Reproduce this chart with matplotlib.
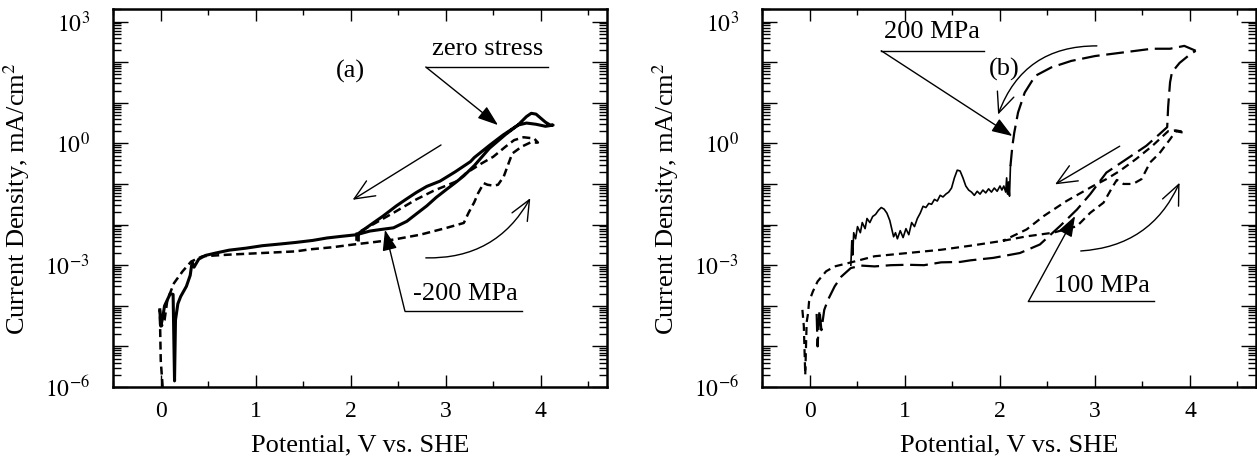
# Polarization curves under applied stress, panels (a) and (b)
import numpy as np
import matplotlib.pyplot as plt
from matplotlib.ticker import FixedLocator, FuncFormatter, LogLocator, MultipleLocator

plt.rcParams['font.family'] = ['Liberation Serif', 'DejaVu Serif']
plt.rcParams['mathtext.fontset'] = 'stix'

# ---- panel (a): zero stress (solid) and -200 MPa (dashed), log10 current in mA/cm2 ----
zero_fwd_v = [-0.01, 0.00, 0.02, 0.04, 0.07, 0.10, 0.13, 0.145, 0.155, 0.18, 0.21, 0.27, 0.31, 0.33,
              0.35, 0.40, 0.47, 0.58, 0.72, 0.90, 1.07, 1.25, 1.42, 1.60, 1.75, 1.90, 2.06, 2.20,
              2.32, 2.45, 2.59, 2.70, 2.80, 2.90, 3.01, 3.10, 3.19, 3.30, 3.46, 3.63, 3.76, 3.85,
              3.90, 3.95, 4.00, 4.05, 4.10, 4.13]
zero_fwd_log = [-4.10, -4.50, -4.30, -4.00, -3.85, -3.70, -3.72, -5.85, -4.35, -3.95, -3.77, -3.52,
                -3.25, -2.92, -3.05, -2.85, -2.76, -2.70, -2.63, -2.58, -2.52, -2.48, -2.44, -2.39,
                -2.33, -2.29, -2.25, -2.16, -2.12, -2.08, -1.92, -1.72, -1.54, -1.33, -1.13, -0.97,
                -0.80, -0.55, -0.12, 0.22, 0.45, 0.66, 0.74, 0.72, 0.62, 0.52, 0.45, 0.45]
zero_rev_v = [4.13, 4.05, 3.95, 3.85, 3.76, 3.60, 3.46, 3.30, 3.26, 3.10, 2.94, 2.80, 2.69, 2.58,
              2.48, 2.34, 2.20, 2.08, 2.08]
zero_rev_log = [0.45, 0.42, 0.47, 0.50, 0.45, 0.20, -0.05, -0.35, -0.45, -0.70, -0.93, -1.06,
                -1.21, -1.38, -1.54, -1.79, -2.02, -2.22, -2.38]

m200_fwd_v = [0.02, 0.00, -0.01, 0.01, 0.04, 0.07, 0.14, 0.23, 0.32, 0.44, 0.72, 1.07, 1.42, 1.57,
              1.80, 2.03, 2.25, 2.45, 2.73, 3.01, 3.19, 3.24, 3.30, 3.34, 3.40, 3.44, 3.50, 3.55,
              3.61, 3.66, 3.70, 3.80, 3.89, 3.97]
m200_fwd_log = [-6.0, -5.35, -4.10, -4.50, -4.35, -3.85, -3.44, -3.15, -2.91, -2.78, -2.74, -2.70,
                -2.66, -2.61, -2.56, -2.49, -2.43, -2.37, -2.25, -2.08, -1.96, -1.71, -1.45, -1.23,
                -0.98, -1.02, -1.04, -1.02, -0.82, -0.50, -0.25, -0.08, 0.02, 0.02]
m200_rev_v = [3.97, 3.93, 3.82, 3.72, 3.63, 3.50, 3.38, 3.21, 3.12, 2.87, 2.69, 2.45, 2.20, 2.06, 2.06]
m200_rev_log = [0.02, 0.12, 0.15, 0.08, -0.08, -0.33, -0.49, -0.74, -0.93, -1.17, -1.38, -1.71,
                -2.04, -2.22, -2.47]

# ---- panel (b): 100 MPa (short dash) and 200 MPa (long dash) ----
p100_fwd_v = [-0.08, -0.065, -0.05, -0.035, -0.02, -0.01, 0.03, 0.08, 0.17, 0.26, 0.40, 0.68, 1.03,
              1.38, 1.69, 2.03, 2.28, 2.56, 2.81, 2.95, 3.09, 3.19, 3.23, 3.30, 3.40, 3.49, 3.58,
              3.68, 3.79, 3.85, 3.94]
p100_fwd_log = [-4.10, -4.50, -5.70, -4.40, -4.18, -3.90, -3.65, -3.40, -3.15, -3.03, -2.95, -2.78,
                -2.70, -2.62, -2.52, -2.40, -2.29, -2.20, -2.04, -1.71, -1.46, -1.05, -0.90, -1.00,
                -1.00, -0.88, -0.47, -0.24, 0.10, 0.30, 0.26]
p100_rev_v = [3.94, 3.85, 3.77, 3.60, 3.43, 3.26, 3.12, 2.98, 2.70, 2.46, 2.28, 2.03]
p100_rev_log = [0.28, 0.32, 0.30, -0.07, -0.39, -0.68, -0.88, -1.05, -1.42, -1.79, -2.12, -2.40]

p200_fwd_v = [0.07, 0.08, 0.10, 0.12, 0.15, 0.19, 0.26, 0.33, 0.43, 0.54, 0.68, 0.85, 1.03, 1.20,
              1.38, 1.58, 1.69, 1.93, 2.21, 2.42, 2.63, 2.81, 2.95, 3.12, 3.33, 3.54, 3.68, 3.76,
              3.77, 3.79, 3.81, 3.89, 4.00, 4.06]
p200_fwd_log = [-4.20, -5.00, -4.10, -4.60, -4.10, -3.85, -3.52, -3.28, -3.07, -3.01, -3.03, -3.00,
                -2.99, -3.00, -2.93, -2.92, -2.88, -2.82, -2.70, -2.49, -2.04, -1.63, -1.25, -0.72,
                -0.39, -0.06, 0.23, 0.40, 0.90, 1.50, 1.75, 1.98, 2.19, 2.28]
p200_rev_v = [4.06, 3.94, 3.79, 3.60, 3.30, 3.00, 2.75, 2.54, 2.37, 2.26, 2.19, 2.15, 2.13, 2.11]
p200_rev_log = [2.28, 2.40, 2.33, 2.33, 2.24, 2.15, 2.03, 1.87, 1.66, 1.25, 0.76, 0.26, -0.07, -0.56]
# noisy low-potential end of the 200 MPa reverse scan
p200_tail_v = [2.11, 2.10, 2.09, 2.08, 2.07, 2.06, 2.04, 2.02, 2.00, 1.97, 1.94, 1.91, 1.88, 1.85,
               1.82, 1.79, 1.76, 1.73, 1.70, 1.67, 1.64, 1.61, 1.58, 1.55, 1.52, 1.49, 1.46, 1.43,
               1.40, 1.37, 1.34, 1.31, 1.28, 1.25, 1.22, 1.19, 1.16, 1.13, 1.10, 1.07, 1.04, 1.01,
               0.98, 0.95, 0.92, 0.90, 0.88, 0.86, 0.84, 0.81, 0.78, 0.75, 0.72, 0.69, 0.66, 0.63,
               0.60, 0.58, 0.55, 0.53, 0.50, 0.48, 0.46, 0.45, 0.44, 0.43]
p200_tail_log = [-0.56, -1.30, -0.95, -1.25, -0.85, -1.20, -1.05, -1.15, -1.05, -1.18, -1.10, -1.20,
                 -1.12, -1.22, -1.15, -1.25, -1.18, -1.28, -1.20, -1.15, -1.05, -0.85, -0.68, -0.66,
                 -0.85, -1.10, -1.20, -1.25, -1.32, -1.28, -1.42, -1.38, -1.50, -1.48, -1.58, -1.55,
                 -1.72, -1.85, -2.05, -1.95, -2.25, -2.10, -2.32, -2.15, -2.35, -2.20, -2.30, -2.10,
                 -1.90, -1.72, -1.62, -1.58, -1.65, -1.75, -1.80, -1.95, -1.85, -2.10, -1.95, -2.20,
                 -2.05, -2.35, -2.20, -2.75, -2.40, -3.00]

decade_labels = [3, 0, -3, -6]


def curr(logs):
    return 10.0 ** np.asarray(logs)


def style_axes(ax):
    ax.set_yscale('log')
    ax.set_ylim(1e-6, 2e3)
    ax.set_xlim(-0.5, 4.7)
    ax.yaxis.set_major_locator(FixedLocator(10.0 ** np.arange(-6, 4)))
    ax.yaxis.set_major_formatter(FuncFormatter(
        lambda v, p: r'$10^{%d}$' % round(np.log10(v)) if round(np.log10(v)) in decade_labels else ''))
    ax.yaxis.set_minor_locator(LogLocator(base=10, subs=np.arange(2, 10), numticks=20))
    ax.yaxis.set_minor_formatter(FuncFormatter(lambda v, p: ''))
    ax.xaxis.set_major_locator(MultipleLocator(1))
    ax.xaxis.set_minor_locator(MultipleLocator(0.5))
    ax.tick_params(which='both', direction='in', top=True, right=True, width=1.0)
    ax.tick_params(axis='y', which='major', length=11, pad=17, labelsize=17)
    ax.tick_params(axis='y', which='minor', length=5.5)
    ax.tick_params(axis='x', which='major', length=8.5, pad=10, labelsize=17)
    ax.tick_params(axis='x', which='minor', length=4.5)
    for s in ax.spines.values():
        s.set_linewidth(1.8)
    ax.set_xlabel('Potential, V vs. SHE', fontsize=19)
    ax.set_ylabel('Current Density, mA/cm$^2$', fontsize=19)
    ax.xaxis.set_label_coords(0.5, -0.125)
    ax.yaxis.set_label_coords(-0.165, 0.5)


def pointer(ax, text, tx, ty, x0, x1, yl, tip):
    # label with underline and a filled arrow from the underline's left end
    ax.text(tx, 10 ** ty, text, fontsize=19, ha='center', va='center')
    ax.plot([x0, x1], [10 ** yl, 10 ** yl], color='black', lw=1.0)
    ax.annotate('', xy=(tip[0], 10 ** tip[1]), xytext=(x0, 10 ** yl),
                arrowprops=dict(arrowstyle='-|>,head_length=0.7,head_width=0.25', color='black',
                                lw=1.0, mutation_scale=18, shrinkA=0, shrinkB=0))


def direction(ax, start, end, rad=0.0):
    ax.annotate('', xy=(end[0], 10 ** end[1]), xytext=(start[0], 10 ** start[1]),
                arrowprops=dict(arrowstyle='->,head_length=0.8,head_width=0.35', color='black',
                                lw=1.0, mutation_scale=18, shrinkA=0, shrinkB=0,
                                connectionstyle='arc3,rad=%s' % rad))


fig = plt.figure(figsize=(12.57, 4.65), dpi=100)
ax_a = fig.add_axes([0.0901, 0.1677, 0.393, 0.8123])
ax_b = fig.add_axes([0.6066, 0.1677, 0.393, 0.8123])

# panel (a)
ax_a.plot(zero_fwd_v + zero_rev_v, curr(zero_fwd_log + zero_rev_log), color='black', lw=2.2)
ax_a.plot(m200_fwd_v + m200_rev_v, curr(m200_fwd_log + m200_rev_log), color='black', lw=1.8,
          dashes=(3.2, 1.8))
style_axes(ax_a)
ax_a.text(2.0, 10 ** 1.76, '(a)', fontsize=19, ha='center', va='center')
pointer(ax_a, 'zero stress', 3.44, 2.33, 2.79, 4.08, 1.88, (3.55, 0.45))
pointer(ax_a, '-200 MPa', 3.21, -3.72, 2.57, 3.80, -4.13, (2.36, -2.13))
direction(ax_a, (2.95, -0.04), (2.02, -1.39))
direction(ax_a, (2.79, -2.82), (3.89, -1.35), rad=0.3)

# panel (b)
ax_b.plot(p100_fwd_v + p100_rev_v, curr(p100_fwd_log + p100_rev_log), color='black', lw=1.6,
          dashes=(3.6, 2.3))
ax_b.plot(p200_fwd_v, curr(p200_fwd_log), color='black', lw=1.6, dashes=(8, 3))
ax_b.plot(p200_rev_v, curr(p200_rev_log), color='black', lw=1.6, dashes=(8, 3))
ax_b.plot(p200_tail_v, curr(p200_tail_log), color='black', lw=1.2)
style_axes(ax_b)
ax_b.text(2.05, 10 ** 1.82, '(b)', fontsize=19, ha='center', va='center')
pointer(ax_b, '200 MPa', 1.28, 2.73, 0.75, 1.83, 2.28, (2.13, 0.18))
pointer(ax_b, '100 MPa', 3.07, -3.52, 2.30, 3.62, -3.89, (2.79, -1.79))
direction(ax_b, (3.02, 2.40), (1.98, 0.71), rad=0.35)
direction(ax_b, (3.26, -0.07), (2.58, -1.01))
direction(ax_b, (2.85, -2.65), (3.89, -0.97), rad=0.3)

fig.savefig('out.png', dpi=100)
